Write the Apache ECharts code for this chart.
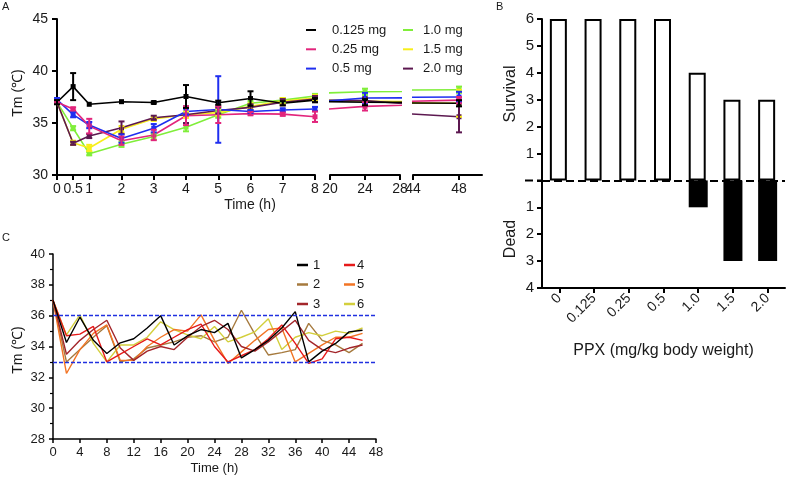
<!DOCTYPE html>
<html>
<head>
<meta charset="utf-8">
<script src="https://cdn.jsdelivr.net/npm/echarts@6/dist/echarts.min.js"></script>
<style>html,body{margin:0;padding:0;background:#fff}#c{width:787px;height:480px}</style>
</head>
<body>
<div id="c"></div>
<script>
// ---------- Panel A data ----------
const timesA = [0, 0.5, 1, 2, 3, 4, 5, 6, 7, 8, 24, 48];
const ticksA1 = [0, 0.5, 1, 2, 3, 4, 5, 6, 7, 8];
const ticksA2 = [20, 24, 28];
const ticksA3 = [44, 48];
const doseNames = ['0.125 mg', '0.25 mg', '0.5 mg', '1.0 mg', '1.5 mg', '2.0 mg'];
const doseColors = ['#000000', '#e2257c', '#1f2ef0', '#80ee3a', '#f7ee1a', '#5c1850'];
const mean0125 = [37.0, 38.5, 36.8, 37.05, 36.97, 37.55, 36.95, 37.35, 36.9, 37.2, 37.0, 36.9];
const sd0125   = [0.2, 1.3, 0, 0, 0.1, 1.1, 0.2, 0.7, 0.2, 0.2, 0.3, 0.3];
const mean025  = [37.0, 36.35, 34.7, 33.3, 33.85, 35.7, 35.8, 35.9, 35.85, 35.6, 36.6, 37.2];
const sd025    = [0.1, 0.15, 0.7, 0.4, 0.5, 0.9, 0.8, 0.15, 0.15, 0.5, 0.4, 0.3];
const mean05   = [37.25, 35.8, 34.8, 33.5, 34.5, 36.1, 36.3, 36.1, 36.25, 36.35, 37.4, 37.5];
const sd05     = [0.15, 0.25, 0.3, 0.4, 0.4, 0.3, 3.2, 0.15, 0.15, 0.2, 0.5, 0.5];
const mean10   = [37.0, 34.5, 32.05, 32.95, 33.7, 34.6, 35.8, 36.9, 37.2, 37.6, 38.0, 38.2];
const sd10     = [0.1, 0.2, 0.15, 0.25, 0.3, 0.4, 0.3, 0.2, 0.2, 0.2, 0.3, 0.3];
const mean15   = [37.0, 33.1, 32.6, 34.4, 35.4, 35.8, 36.0, 36.6, 37.1, 37.4, 37.1, 36.9];
const sd15     = [0.1, 0.2, 0.3, 0.3, 0.2, 0.3, 0.3, 0.3, 0.3, 0.3, 0.3, 1.3];
const mean20   = [37.0, 33.05, 33.75, 34.55, 35.5, 35.8, 36.2, 36.5, 37.0, 37.3, 37.15, 35.6];
const sd20     = [0.1, 0.15, 0.2, 0.6, 0.2, 0.8, 0.3, 0.3, 0.3, 0.3, 0.3, 1.5];

// ---------- Panel B data ----------
const ppxLabels = ['0', '0.125', '0.25', '0.5', '1.0', '1.5', '2.0'];
const survival = [6, 6, 6, 6, 4, 3, 3];
const dead = [0, 0, 0, 0, 1, 3, 3];

// ---------- Panel C data ----------
const timesC = [0, 2, 4, 6, 8, 10, 12, 14, 16, 18, 20, 22, 24, 26, 28, 30, 32, 34, 36, 38, 40, 42, 44, 46];
const cNames = ['1', '2', '3', '4', '5', '6'];
const cColors = ['#000000', '#a67a3e', '#a3262b', '#e61a1a', '#f27424', '#d3cf3c'];
const tm1 = [37.0, 34.26, 35.9, 34.4, 33.55, 34.24, 34.5, 35.2, 36.0, 34.1, 34.7, 35.1, 34.9, 35.5, 33.26, 33.8, 34.4, 35.2, 36.26, 33.0, 33.7, 34.2, 34.95, 35.05];
const tm2 = [37.0, 33.0, 33.8, 34.6, 35.35, 33.0, 33.2, 33.9, 34.1, 34.3, 34.6, 34.7, 34.3, 34.6, 36.35, 34.8, 33.45, 33.6, 33.8, 35.5, 34.4, 34.1, 33.6, 34.2];
const tm3 = [37.0, 33.5, 34.4, 35.1, 35.7, 33.9, 33.1, 33.7, 34.0, 33.8, 34.6, 35.3, 35.7, 35.1, 34.0, 33.7, 34.3, 35.0, 35.7, 34.4, 33.8, 33.6, 33.9, 34.1];
const tm4 = [37.0, 34.7, 34.8, 35.3, 33.0, 33.5, 34.0, 34.5, 34.1, 34.6, 35.1, 35.45, 34.0, 33.0, 33.4, 33.8, 34.5, 35.4, 34.2, 32.9, 33.2, 34.5, 34.6, 34.4];
const tm5 = [37.0, 32.25, 33.8, 34.85, 35.4, 33.1, 33.1, 34.0, 34.6, 35.1, 35.0, 36.05, 34.4, 32.9, 33.65, 34.4, 35.1, 35.2, 33.0, 33.55, 34.1, 34.6, 34.6, 34.85];
const tm6 = [37.0, 34.75, 36.05, 34.2, 33.0, 34.1, 34.1, 34.6, 35.6, 35.1, 34.75, 34.5, 35.3, 34.3, 34.6, 34.95, 35.8, 33.8, 34.6, 34.9, 34.7, 35.0, 34.85, 35.2];
const refLinesC = [36, 33];

const meansA = [mean0125, mean025, mean05, mean10, mean15, mean20];
const sdsA = [sd0125, sd025, sd05, sd10, sd15, sd20];
const tmC = [tm1, tm2, tm3, tm4, tm5, tm6];

const FONT = '"Liberation Sans", Arial, sans-serif';
const TXT = '#1a1a1a';

function errRender(params, api) {
  const x = api.value(0), lo = api.value(1), hi = api.value(2);
  if (hi - lo <= 0) return null;
  const t = api.coord([x, hi]), b = api.coord([x, lo]);
  const w = 3;
  const style = { stroke: api.visual('color'), lineWidth: 2 };
  return { type: 'group', children: [
    { type: 'line', shape: { x1: t[0], y1: t[1], x2: b[0], y2: b[1] }, style },
    { type: 'line', shape: { x1: t[0] - w, y1: t[1], x2: t[0] + w, y2: t[1] }, style },
    { type: 'line', shape: { x1: b[0] - w, y1: b[1], x2: b[0] + w, y2: b[1] }, style }
  ]};
}

const gridsA = [
  { left: 57, top: 19, width: 258, height: 156, range: [0, 8], ticks: ticksA1 },
  { left: 330, top: 19, width: 70, height: 156, range: [20, 28], ticks: ticksA2 },
  { left: 413, top: 19, width: 69, height: 156, range: [44, 50], ticks: ticksA3 }
];

const grid = [], xAxis = [], yAxis = [], series = [];

gridsA.forEach((g, gi) => {
  grid.push({ left: g.left, top: g.top, width: g.width, height: g.height, outerBoundsMode: 'none', containLabel: false });
  xAxis.push({
    type: 'value', gridIndex: gi, min: g.range[0], max: g.range[1],
    axisLine: { show: true, onZero: false, lineStyle: { color: '#000', width: 2 } },
    axisTick: { show: true, customValues: g.ticks, length: 5, lineStyle: { color: '#000', width: 2 } },
    axisLabel: { customValues: g.ticks, formatter: v => String(v), fontSize: 14, color: TXT, fontFamily: FONT, margin: 7 },
    splitLine: { show: false }
  });
  yAxis.push({
    type: 'value', gridIndex: gi, min: 30, max: 45, interval: 5, show: gi === 0,
    axisLine: { show: true, lineStyle: { color: '#000', width: 2 } },
    axisTick: { show: true, length: 5, lineStyle: { color: '#000', width: 2 } },
    axisLabel: { fontSize: 14, color: TXT, fontFamily: FONT, margin: 9 },
    splitLine: { show: false }
  });
  const order = [3, 4, 5, 2, 1, 0];
  order.forEach(k => {
    series.push({
      type: 'line', name: doseNames[k], xAxisIndex: gi, yAxisIndex: gi,
      data: timesA.map((t, i) => [t, meansA[k][i]]),
      clip: true, symbol: 'rect', symbolSize: 5,
      lineStyle: { color: doseColors[k], width: 1.6 },
      itemStyle: { color: doseColors[k] },
      emphasis: { disabled: true }, z: 3
    });
  });
  order.forEach(k => {
    const d = [];
    timesA.forEach((t, i) => {
      if (t >= g.range[0] && t <= g.range[1]) d.push([t, meansA[k][i] - sdsA[k][i], meansA[k][i] + sdsA[k][i]]);
    });
    series.push({
      type: 'custom', xAxisIndex: gi, yAxisIndex: gi, renderItem: errRender,
      itemStyle: { color: doseColors[k] }, data: d, z: 4, silent: true,
      encode: { x: 0, y: [1, 2] }
    });
  });
});

// Panel B
grid.push({ left: 542, top: 19, width: 243, height: 269, outerBoundsMode: 'none', containLabel: false });
xAxis.push({
  type: 'category', gridIndex: 3, data: ppxLabels,
  axisLine: { show: true, onZero: false, lineStyle: { color: '#000', width: 2 } },
  axisTick: { show: true, alignWithLabel: true, length: 5, lineStyle: { color: '#000', width: 2 } },
  axisLabel: { rotate: 45, fontSize: 14, color: TXT, fontFamily: FONT, margin: 8, interval: 0 },
  name: 'PPX (mg/kg body weight)', nameLocation: 'middle', nameGap: 55,
  nameTextStyle: { fontSize: 16, color: TXT, fontFamily: FONT }
});
yAxis.push({
  type: 'value', gridIndex: 3, min: -4, max: 6, interval: 1,
  axisLine: { show: true, lineStyle: { color: '#000', width: 2 } },
  axisTick: { show: true, length: 5, lineStyle: { color: '#000', width: 2 } },
  axisLabel: { formatter: v => (v === 0 ? '' : String(Math.abs(v))), fontSize: 15, color: TXT, fontFamily: FONT, margin: 8 },
  splitLine: { show: false }
});
series.push({
  type: 'bar', name: 'Survival', xAxisIndex: 3, yAxisIndex: 3, data: survival,
  barWidth: 17, barGap: '-100%',
  itemStyle: { color: '#fff', borderColor: '#000', borderWidth: 2 },
  emphasis: { disabled: true },
  markLine: {
    silent: true, symbol: 'none', label: { show: false },
    lineStyle: { color: '#000', width: 2, type: [8, 4] },
    data: [{ yAxis: 0 }]
  }
});
series.push({
  type: 'bar', name: 'Dead', xAxisIndex: 3, yAxisIndex: 3, data: dead.map(v => -v),
  barWidth: 19, barGap: '-100%',
  itemStyle: { color: '#000' }, emphasis: { disabled: true }
});

// Panel C
grid.push({ left: 53, top: 254, width: 323, height: 185, outerBoundsMode: 'none', containLabel: false });
xAxis.push({
  type: 'value', gridIndex: 4, min: 0, max: 48, interval: 4,
  axisLine: { show: true, onZero: false, lineStyle: { color: '#000', width: 1.5 } },
  axisTick: { show: true, length: 4, lineStyle: { color: '#000', width: 1.5 } },
  axisLabel: { fontSize: 13, color: TXT, fontFamily: FONT, margin: 7 },
  splitLine: { show: false },
  name: 'Time (h)', nameLocation: 'middle', nameGap: 23,
  nameTextStyle: { fontSize: 13, color: TXT, fontFamily: FONT }
});
yAxis.push({
  type: 'value', gridIndex: 4, min: 28, max: 40, interval: 2,
  axisLine: { show: true, lineStyle: { color: '#000', width: 1.5 } },
  axisTick: { show: true, length: 4, lineStyle: { color: '#000', width: 1.5 } },
  minorTick: { show: true, splitNumber: 2, length: 3, lineStyle: { color: '#000', width: 1.2 } },
  axisLabel: { fontSize: 13, color: TXT, fontFamily: FONT, margin: 8 },
  splitLine: { show: false }
});
[1, 5, 4, 2, 3, 0].forEach((k, j) => {
  const s = {
    type: 'line', name: cNames[k], xAxisIndex: 4, yAxisIndex: 4,
    data: timesC.map((t, i) => [t, tmC[k][i]]), symbol: 'none',
    lineStyle: { color: cColors[k], width: 1.4 }, itemStyle: { color: cColors[k] },
    emphasis: { disabled: true }
  };
  if (j === 0) {
    s.markLine = {
      silent: true, symbol: 'none', label: { show: false },
      lineStyle: { color: '#2030e0', width: 1.3, type: [4, 2] },
      data: refLinesC.map(v => ({ yAxis: v }))
    };
  }
  series.push(s);
});

const legendBase = {
  orient: 'vertical', icon: 'rect', itemWidth: 10, itemHeight: 2, selectedMode: false
};

const option = {
  animation: false,
  backgroundColor: '#fff',
  textStyle: { fontFamily: FONT },
  grid, xAxis, yAxis, series,
  legend: [
    Object.assign({}, legendBase, { data: doseNames.slice(0, 3), left: 301, top: 18, itemGap: 5.3,
      textStyle: { fontSize: 13, color: TXT, fontFamily: FONT, lineHeight: 14, padding: [0, 0, 0, 11] } }),
    Object.assign({}, legendBase, { data: doseNames.slice(3), left: 398, top: 18, itemGap: 5.3,
      textStyle: { fontSize: 13, color: TXT, fontFamily: FONT, lineHeight: 14, padding: [0, 0, 0, 5] } }),
    Object.assign({}, legendBase, { data: cNames.slice(0, 3), left: 292, top: 253, itemGap: 5.5, itemWidth: 11, itemHeight: 2.5,
      textStyle: { fontSize: 13, color: TXT, fontFamily: FONT, lineHeight: 14 } }),
    Object.assign({}, legendBase, { data: cNames.slice(3), left: 339, top: 253, itemGap: 5.5, itemWidth: 11, itemHeight: 2.5,
      textStyle: { fontSize: 13, color: TXT, fontFamily: FONT, lineHeight: 14, padding: [0, 0, 0, -3] } })
  ],
  graphic: [
    { type: 'text', left: 2, top: 1, style: { text: 'A', font: '11px ' + FONT, fill: TXT } },
    { type: 'text', left: 496, top: 1, style: { text: 'B', font: '11px ' + FONT, fill: TXT } },
    { type: 'text', left: 2, top: 232, style: { text: 'C', font: '11px ' + FONT, fill: TXT } },
    { type: 'text', x: 18, y: 93, rotation: Math.PI / 2, style: { text: 'Tm (℃)', font: '14px ' + FONT, fill: TXT, align: 'center', verticalAlign: 'middle' } },
    { type: 'text', x: 250, y: 205, style: { text: 'Time (h)', font: '14px ' + FONT, fill: TXT, align: 'center', verticalAlign: 'middle' } },
    { type: 'text', x: 511, y: 94, rotation: Math.PI / 2, style: { text: 'Survival', font: '16px ' + FONT, fill: TXT, align: 'center', verticalAlign: 'middle' } },
    { type: 'text', x: 511, y: 239, rotation: Math.PI / 2, style: { text: 'Dead', font: '16px ' + FONT, fill: TXT, align: 'center', verticalAlign: 'middle' } },
    { type: 'text', x: 18, y: 350, rotation: Math.PI / 2, style: { text: 'Tm (℃)', font: '14px ' + FONT, fill: TXT, align: 'center', verticalAlign: 'middle' } }
  ]
};

const chart = echarts.init(document.getElementById('c'), null, { renderer: 'canvas' });
chart.setOption(option);
const y0 = chart.convertToPixel({ yAxisIndex: 3 }, 0);
option.graphic.push({ type: 'line', shape: { x1: 525, y1: y0, x2: 542, y2: y0 }, style: { stroke: '#000', lineWidth: 2, lineDash: [8, 4] } });
chart.setOption({ graphic: option.graphic });
</script>
</body>
</html>
